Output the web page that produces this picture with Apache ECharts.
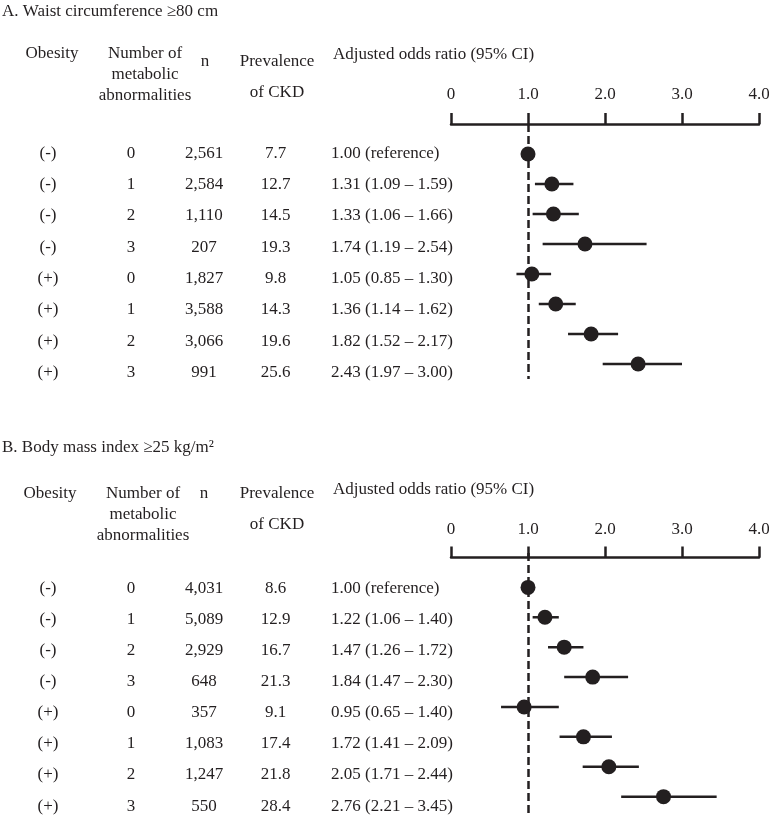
<!DOCTYPE html>
<html>
<head>
<meta charset="utf-8">
<script src="https://cdn.jsdelivr.net/npm/echarts@6/dist/echarts.min.js"></script>
<style>
  html, body { margin: 0; padding: 0; background: #fff; }
  #main { width: 769px; height: 815px; }
</style>
</head>
<body>
<div id="main"></div>
<script>
// table data
var obesity = ['(-)', '(-)', '(-)', '(-)', '(+)', '(+)', '(+)', '(+)'];
var abnormalities = ['0', '1', '2', '3', '0', '1', '2', '3'];
var tickLabels = ['0', '1.0', '2.0', '3.0', '4.0'];

// A. waist circumference
var nA = ['2,561', '2,584', '1,110', '207', '1,827', '3,588', '3,066', '991'];
var prevA = [7.7, 12.7, 14.5, 19.3, 9.8, 14.3, 19.6, 25.6];
var orA = [1.00, 1.31, 1.33, 1.74, 1.05, 1.36, 1.82, 2.43];
var loA = [null, 1.09, 1.06, 1.19, 0.85, 1.14, 1.52, 1.97];
var hiA = [null, 1.59, 1.66, 2.54, 1.30, 1.62, 2.17, 3.00];

// B. body mass index
var nB = ['4,031', '5,089', '2,929', '648', '357', '1,083', '1,247', '550'];
var prevB = [8.6, 12.9, 16.7, 21.3, 9.1, 17.4, 21.8, 28.4];
var orB = [1.00, 1.22, 1.47, 1.84, 0.95, 1.72, 2.05, 2.76];
var loB = [null, 1.06, 1.26, 1.47, 0.65, 1.41, 1.71, 2.21];
var hiB = [null, 1.40, 1.72, 2.30, 1.40, 2.09, 2.44, 3.45];

var FONT = "'Liberation Serif', 'Times New Roman', serif";
var INK = '#231f20';

function orText(or, lo, hi) {
    return or.map(function (v, i) {
        if (lo[i] == null) return v.toFixed(2) + ' (reference)';
        return v.toFixed(2) + ' (' + lo[i].toFixed(2) + ' \u2013 ' + hi[i].toFixed(2) + ')';
    });
}

// one text column = hidden category y axis, labels anchored at x
function column(grid, data, x, align) {
    return {
        type: 'category', gridIndex: grid, inverse: true, position: 'left',
        offset: -x, data: data,
        axisLine: { show: false }, axisTick: { show: false }, splitLine: { show: false },
        axisLabel: { interval: 0, margin: 0, align: align || 'center',
            fontFamily: FONT, fontSize: 17, color: INK }
    };
}

function oddsAxis(grid, margin) {
    return {
        type: 'value', gridIndex: grid, position: 'top', min: 0, max: 4, interval: 1,
        axisLine: { show: true, lineStyle: { color: INK, width: 2.5 } },
        axisTick: { show: true, length: 11, lineStyle: { color: INK, width: 2.5 } },
        splitLine: { show: false },
        axisLabel: { margin: margin, fontFamily: FONT, fontSize: 17, color: INK,
            formatter: function (v) { return tickLabels[Math.round(v)]; } }
    };
}

function rows(vals) {
    return vals.map(function (v, i) { return [v, i + 1]; });
}
function ciRows(lo, hi) {
    var out = [];
    lo.forEach(function (l, i) { if (l != null) out.push([l, hi[i], i + 1]); });
    return out;
}

function ciSeries(axis, lo, hi) {
    return {
        type: 'custom', xAxisIndex: axis, yAxisIndex: axis === 1 ? 5 : 11,
        data: ciRows(lo, hi), encode: { x: [0, 1], y: 2 }, silent: true,
        renderItem: function (params, api) {
            var a = api.coord([api.value(0), api.value(2)]);
            var b = api.coord([api.value(1), api.value(2)]);
            return { type: 'line', shape: { x1: a[0], y1: a[1], x2: b[0], y2: b[1] },
                style: { stroke: INK, lineWidth: 2.5 } };
        }
    };
}

function pointSeries(axis, or) {
    return {
        type: 'scatter', xAxisIndex: axis, yAxisIndex: axis === 1 ? 5 : 11,
        data: rows(or), symbol: 'circle', symbolSize: 15, silent: true, z: 5,
        itemStyle: { color: INK, opacity: 1 },
        markLine: {
            silent: true, symbol: 'none', label: { show: false },
            lineStyle: { color: INK, width: 2.5, type: [8, 4] },
            data: [{ xAxis: 1 }]
        }
    };
}

function txt(x, y, s, align, lh) {
    return { type: 'text', x: x, y: y,
        style: { text: s, fontFamily: FONT, fontSize: 17, fill: INK, lineHeight: lh || 21,
            textAlign: align || 'center', textVerticalAlign: 'middle' } };
}

function hiddenY(grid, min, max) {
    return { type: 'value', gridIndex: grid, inverse: true, min: min, max: max, show: false };
}

var myChart = echarts.init(document.getElementById('main'));
option = {
    animation: false,
    grid: [
        { left: 0, right: 0, top: 137.7, height: 250.3, outerBoundsMode: 'none' },
        { left: 451, right: 10, top: 124, height: 255, outerBoundsMode: 'none' },
        { left: 0, right: 0, top: 572.8, height: 248.8, outerBoundsMode: 'none' },
        { left: 451, right: 10, top: 553, height: 261.6, outerBoundsMode: 'none' }
    ],
    xAxis: [
        { type: 'value', gridIndex: 0, show: false },
        oddsAxis(1, 21),
        { type: 'value', gridIndex: 2, show: false },
        oddsAxis(3, 14.5)
    ],
    yAxis: [
        column(0, obesity, 48),
        column(0, abnormalities, 131),
        column(0, nA, 204),
        column(0, prevA.map(function (v) { return v.toFixed(1); }), 275.5),
        column(0, orText(orA, loA, hiA), 331, 'left'),
        hiddenY(1, 0, 8.5),
        column(2, obesity, 48),
        column(2, abnormalities, 131),
        column(2, nB, 204),
        column(2, prevB.map(function (v) { return v.toFixed(1); }), 275.5),
        column(2, orText(orB, loB, hiB), 331, 'left'),
        hiddenY(3, -0.15, 8.6)
    ],
    graphic: [
        txt(2, 12, 'A. Waist circumference \u226580 cm', 'left'),
        txt(52, 54, 'Obesity'),
        txt(145, 75, 'Number of\nmetabolic\nabnormalities'),
        txt(205, 62, 'n'),
        txt(277, 77, 'Prevalence\nof CKD', 'center', 31),
        txt(333, 55, 'Adjusted odds ratio (95% CI)', 'left'),

        txt(2, 448, 'B. Body mass index \u226525 kg/m\u00b2', 'left'),
        txt(50, 494, 'Obesity'),
        txt(143, 515, 'Number of\nmetabolic\nabnormalities'),
        txt(204, 494, 'n'),
        txt(277, 509.5, 'Prevalence\nof CKD', 'center', 31),
        txt(333, 490, 'Adjusted odds ratio (95% CI)', 'left')
    ],
    series: [
        ciSeries(1, loA, hiA),
        pointSeries(1, orA),
        ciSeries(3, loB, hiB),
        pointSeries(3, orB)
    ]
};
myChart.setOption(option);
</script>
</body>
</html>
